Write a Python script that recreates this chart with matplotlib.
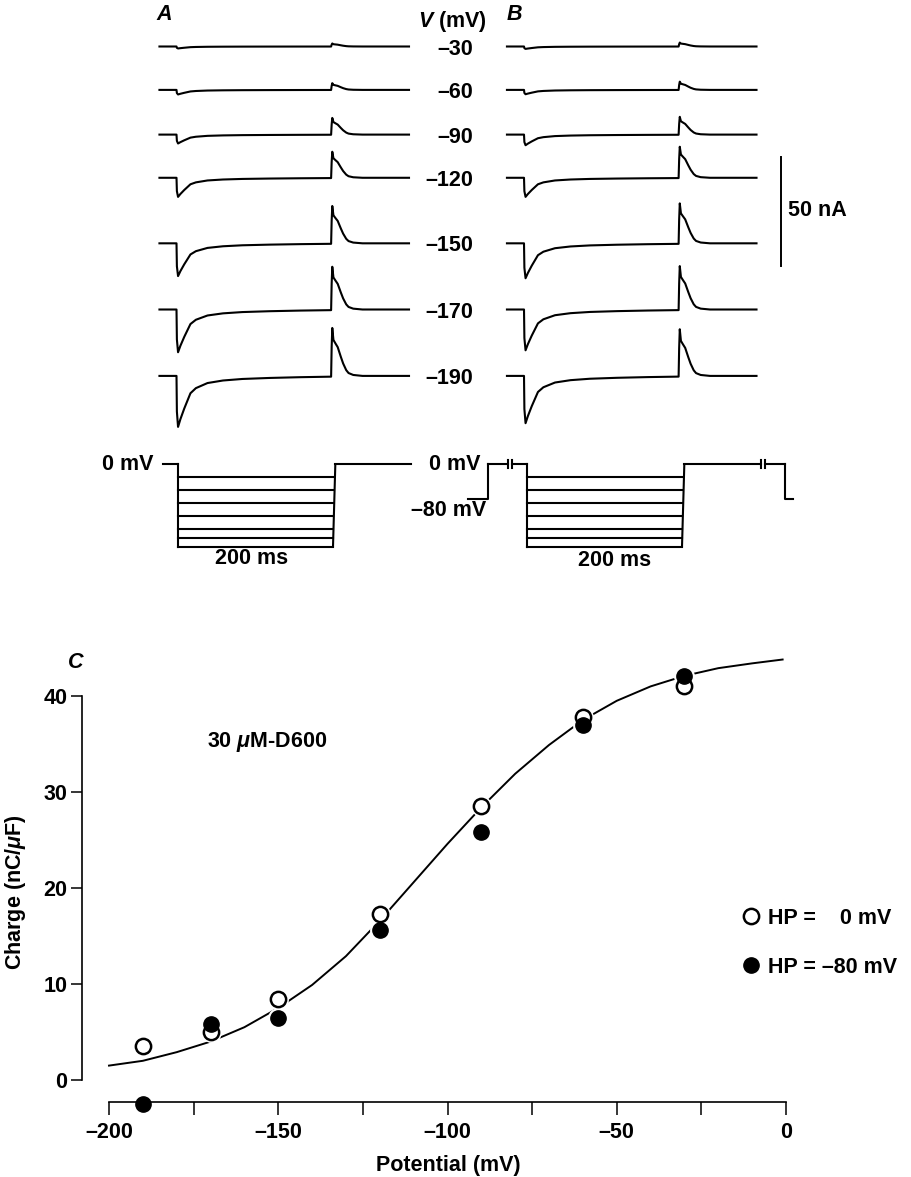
import numpy as np
import matplotlib
matplotlib.use("Agg")
import matplotlib.pyplot as plt
from matplotlib.transforms import blended_transform_factory

plt.rcParams['font.family'] = ['Liberation Sans', 'DejaVu Sans']
plt.rcParams['font.weight'] = 'bold'
plt.rcParams['axes.labelweight'] = 'bold'
plt.rcParams['mathtext.fontset'] = 'custom'
plt.rcParams['mathtext.it'] = 'Liberation Sans:italic:bold'
plt.rcParams['mathtext.rm'] = 'Liberation Sans:bold'

# ---------------- data ----------------
step_mV = [-30, -60, -90, -120, -150, -170, -190]
step_labels = ['–30', '–60', '–90', '–120', '–150', '–170', '–190']

# normalised current time course (ms)
trace_t = [-22, 0, 0.5, 2, 5, 10, 18, 25, 40, 60, 85, 120, 160, 199.5,
           200.2, 201, 202.5, 205, 208, 212, 215, 219, 222, 228, 240, 300]
on_shape = [0, 0, -0.7, -1.0, -0.85, -0.64, -0.34, -0.24, -0.14, -0.09, -0.06,
            -0.04, -0.025, -0.015, 0, 0, 0, 0, 0, 0, 0, 0, 0, 0, 0, 0]
off_shape = [0, 0, 0, 0, 0, 0, 0, 0, 0, 0, 0, 0, 0, 0,
             0.6, 1.0, 0.75, 0.68, 0.6, 0.4, 0.26, 0.12, 0.06, 0.02, 0, 0]

# peak on / off currents (nA) for each step
on_A = [0.9, 2.1, 4.1, 8.8, 15.1, 19.7, 23.5]
off_A = [1.4, 3.1, 7.7, 12.0, 17.2, 19.7, 22.1]
on_B = [1.1, 2.0, 4.9, 8.8, 16.1, 18.8, 21.8]
off_B = [1.8, 3.8, 8.2, 14.3, 18.4, 20.0, 21.5]

pulse_ms = 200
hold_B = -80
pre_B = [-76, -50]      # -80 mV before the prepulse to 0 mV
post_B = [333, 343]     # return to -80 mV
breaks_B = [-22, 304.5]

# charge vs potential
pot = [-190, -170, -150, -120, -90, -60, -30]
q_hp0 = [3.5, 5.0, 8.4, 17.3, 28.5, 37.8, 41.0]
q_hp80 = [-2.5, 5.8, 6.5, 15.6, 25.8, 37.0, 42.1]
fit_v = [-200, -190, -180, -170, -160, -150, -140, -130, -120, -110, -100,
         -90, -80, -70, -60, -50, -40, -30, -20, -10, -1]
fit_q = [1.5, 2.0, 2.9, 4.0, 5.5, 7.5, 9.9, 12.9, 16.6, 20.6, 24.6,
         28.4, 31.9, 34.9, 37.5, 39.5, 41.0, 42.1, 42.9, 43.4, 43.8]

# ---------------- layout ----------------
W, H = 911, 1177
FS = 15.5
fig = plt.figure(figsize=(W / 100, H / 100), dpi=100)
trace_gap = [0, 20.0, 40.6, 60.5, 90.7, 121.2, 151.8]   # stacking of records (nA)


def panel(px0, px1, py0, py1, t0px, sx, y0px, sy):
    ax = fig.add_axes([px0 / W, 1 - py1 / H, (px1 - px0) / W, (py1 - py0) / H])
    ax.set_xlim((px0 - t0px) / sx, (px1 - t0px) / sx)
    ax.set_ylim((y0px - py1) / sy, (y0px - py0) / sy)
    ax.axis('off')
    return ax


def ftext(px, py, s, **kw):
    kw.setdefault('fontsize', FS)
    fig.text(px / W, 1 - py / H, s, **kw)


lw = 1.5
axA = panel(150, 420, 20, 440, 176.5, 0.775, 46.5, 2.17)
axB = panel(495, 800, 20, 440, 524, 0.775, 46.5, 2.17)
t = np.array(trace_t)
for ax, on, off in [(axA, on_A, off_A), (axB, on_B, off_B)]:
    for i in range(len(step_mV)):
        y = -trace_gap[i] + on[i] * np.array(on_shape) + off[i] * np.array(off_shape)
        ax.plot(t, y, color='k', lw=lw)

# voltage labels between the panels
tr = blended_transform_factory(fig.transFigure, axA.transData)
for i, lab in enumerate(step_labels):
    axA.text(473 / W, -trace_gap[i] - 1.2, lab, transform=tr, ha='right',
             va='center', fontsize=FS, clip_on=False)

# 50 nA scale bar
axB.plot([332, 332], [-51, -101], color='k', lw=1.4)
ftext(788, 211, '50 nA', va='center')

ftext(164, 15, 'A', ha='center', va='center', style='italic')
ftext(514, 15, 'B', ha='center', va='center', style='italic')
ftext(452, 22, '$V$ (mV)', ha='center', va='center')

# voltage protocols
axPA = panel(150, 420, 450, 570, 178, 0.775, 464.3, 0.4337)
axPB = panel(440, 800, 450, 570, 527, 0.775, 464.3, 0.4337)
vmin = min(step_mV)
for ax in (axPA, axPB):
    ax.plot([0, 0], [0, vmin], color='k', lw=lw)
    for v in step_mV:
        ax.plot([0, pulse_ms], [v, v], color='k', lw=lw)
    ax.plot([pulse_ms, pulse_ms + 3], [vmin, 0], color='k', lw=lw)

axPA.plot([-19, 0], [0, 0], color='k', lw=lw)
axPA.plot([pulse_ms + 3, 301], [0, 0], color='k', lw=lw)


def broken(ax, t0, t1, tb, v):
    g = 2.2
    ax.plot([t0, tb - g], [v, v], color='k', lw=lw)
    ax.plot([tb + g, t1], [v, v], color='k', lw=lw)
    for tt in (tb - g, tb + g):
        ax.plot([tt, tt], [v - 9, v + 9], color='k', lw=lw)


axPB.plot([pre_B[0], pre_B[1], pre_B[1]], [hold_B, hold_B, 0], color='k', lw=lw)
broken(axPB, pre_B[1], 0, breaks_B[0], 0)
broken(axPB, pulse_ms + 3, post_B[0], breaks_B[1], 0)
axPB.plot([post_B[0], post_B[0], post_B[1]], [0, hold_B, hold_B], color='k', lw=lw)

ftext(154, 465, '0 mV', ha='right', va='center')
ftext(481, 464, '0 mV', ha='right', va='center')
ftext(486, 511, '–80 mV', ha='right', va='center')
ftext(252, 558, '200 ms', ha='center', va='center')
ftext(615, 561, '200 ms', ha='center', va='center')

# ---------------- panel C ----------------
axC = fig.add_axes([109 / W, 1 - 1108.8 / H, 677 / W, 460.8 / H])
axC.set_xlim(-200, 0)
axC.set_ylim(-3, 45)
axC.plot(fit_v, fit_q, color='k', lw=1.4, zorder=1, clip_on=False)
axC.plot(pot, q_hp0, 'o', ms=14, mfc='white', mec='white', zorder=1.5, clip_on=False)
axC.plot(pot, q_hp80, 'o', ms=14, mfc='white', mec='white', zorder=1.5, clip_on=False)
h0, = axC.plot(pot, q_hp0, 'o', ms=11, mfc='white', mec='k', mew=1.8,
               zorder=3, clip_on=False)
h80, = axC.plot(pot, q_hp80, 'o', ms=11, mfc='k', mec='k', mew=1.0,
                zorder=3.1, clip_on=False)

for s in ('top', 'right'):
    axC.spines[s].set_visible(False)
axC.spines['left'].set_position(('data', -208))
axC.spines['bottom'].set_position(('data', -2.3))
axC.spines['left'].set_bounds(0, 40)
axC.spines['bottom'].set_bounds(-200, 0)
for s in ('left', 'bottom'):
    axC.spines[s].set_linewidth(1.2)

axC.set_yticks([0, 10, 20, 30, 40])
axC.set_xticks([-200, -150, -100, -50, 0])
axC.set_xticklabels(['–200', '–150', '–100', '–50', '0'])
axC.set_xticks([-175, -125, -75, -25], minor=True)
axC.tick_params(axis='y', direction='out', length=8, width=1.1, pad=2.5, labelsize=FS)
axC.tick_params(axis='x', which='both', direction='out', length=9, width=1.1,
                pad=5, labelsize=FS)

axC.set_ylabel('Charge (nC/$\\mu$F)', fontsize=FS)
axC.set_xlabel('Potential (mV)', fontsize=FS)
axC.yaxis.set_label_coords((16 - 109) / 677, (1108.8 - 892) / 460.8)
axC.yaxis.label.set_va('center')
axC.xaxis.set_label_coords((448 - 109) / 677, (1108.8 - 1165) / 460.8)
axC.xaxis.label.set_va('center')

axC.legend([h0, h80], ['HP =    0 mV', 'HP = –80 mV'], loc='center left',
           bbox_to_anchor=(743 / W, 1 - 943 / H), bbox_transform=fig.transFigure,
           frameon=False, handlelength=0.7, handletextpad=0.45, labelspacing=1.3,
           borderpad=0, borderaxespad=0, fontsize=FS)

ftext(76, 662, 'C', ha='center', va='center', style='italic')
ftext(207, 742, '30 $\\mu$M-D600', ha='left', va='center')

fig.savefig('out.png', dpi=100)
